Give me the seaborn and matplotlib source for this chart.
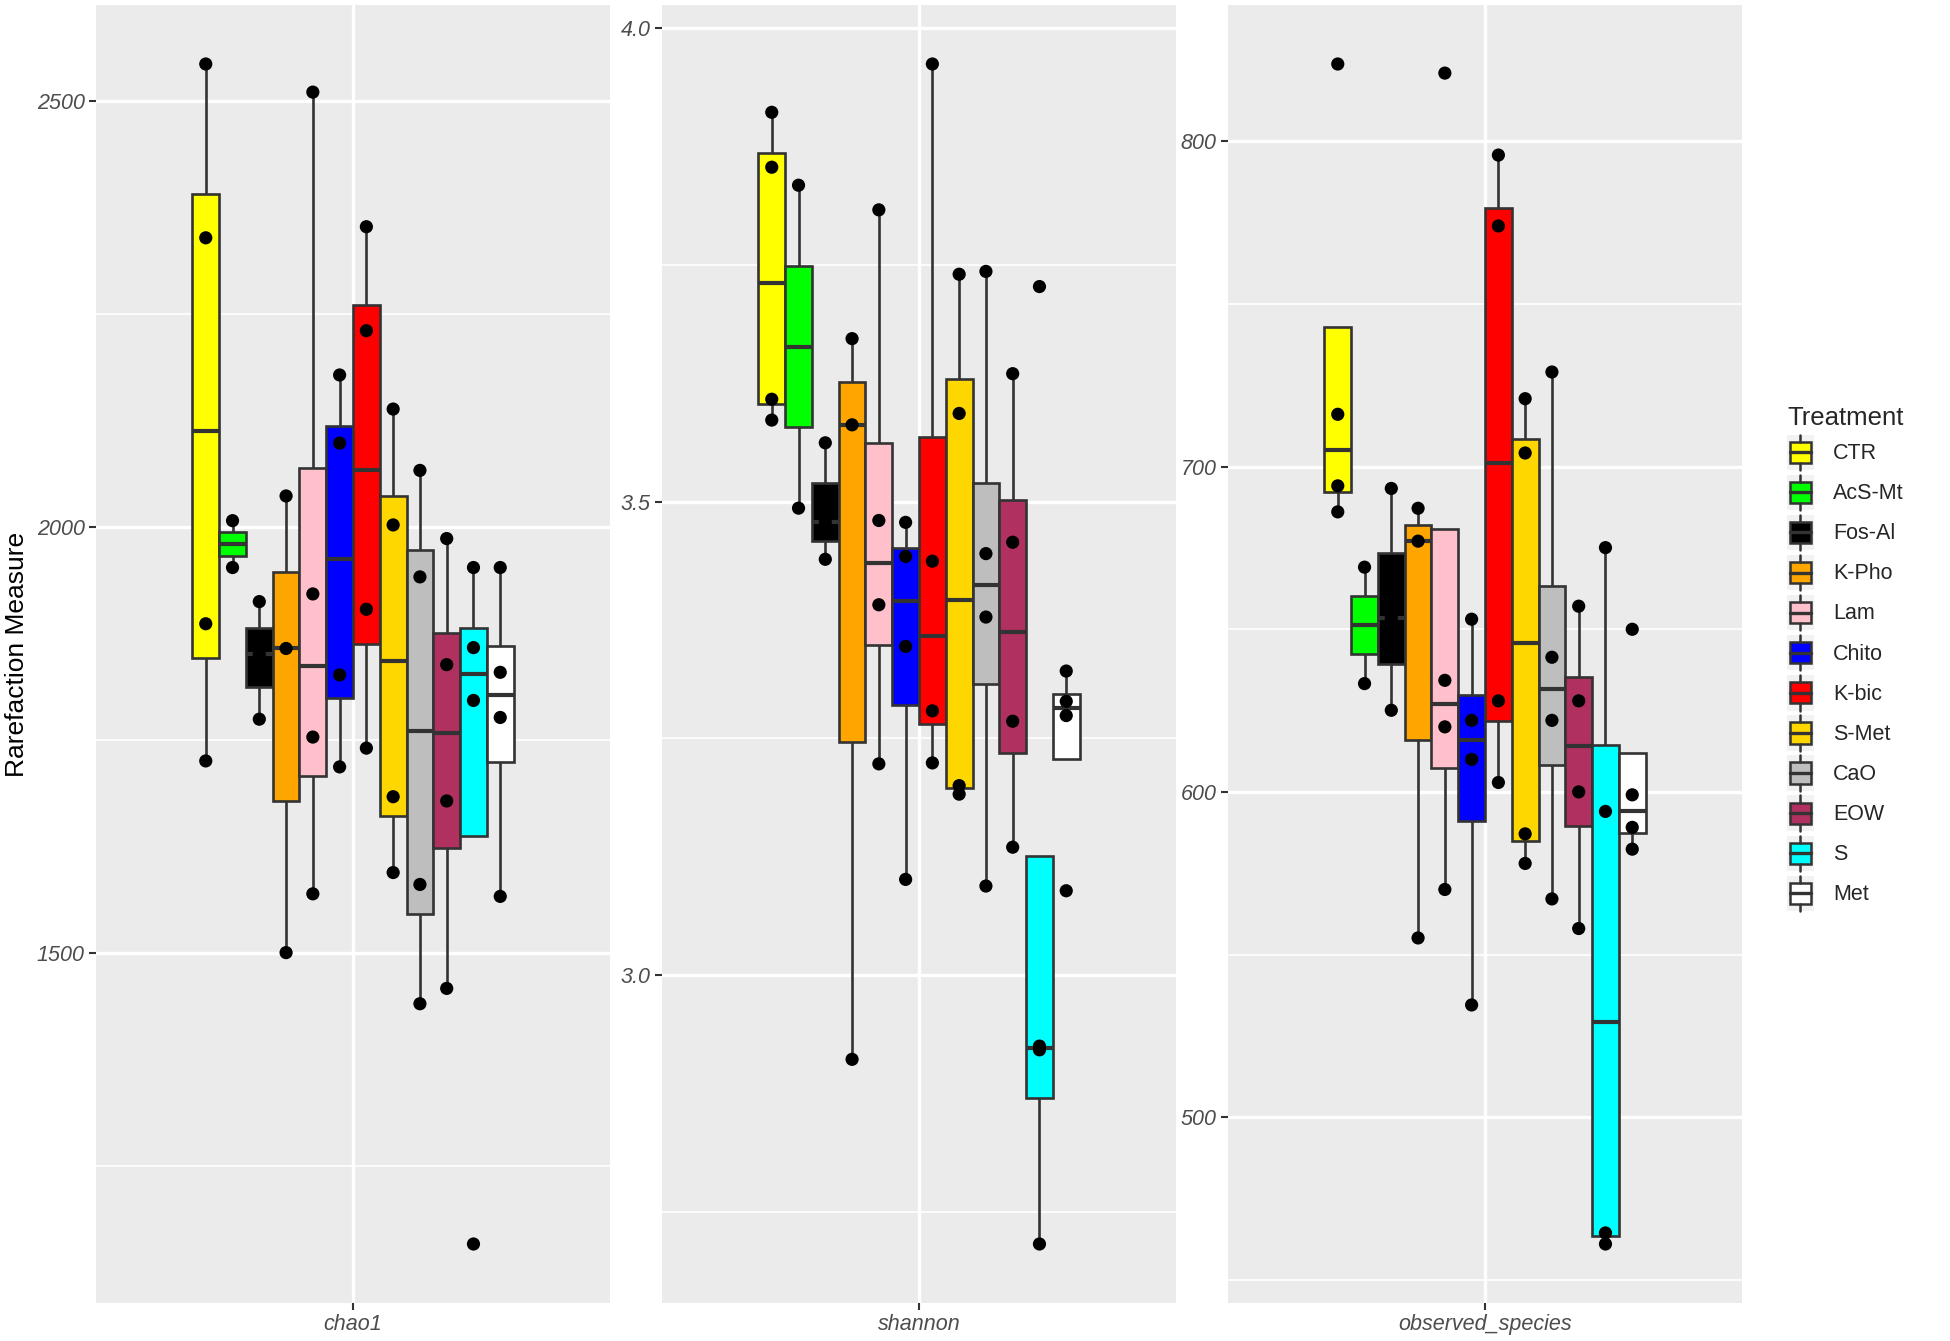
import numpy as np
import pandas as pd
import matplotlib
matplotlib.use("Agg")
import matplotlib.pyplot as plt
import seaborn as sns
from matplotlib.legend_handler import HandlerBase
from matplotlib.patches import Rectangle, Patch
from matplotlib.lines import Line2D
from matplotlib.ticker import FixedLocator

# ---------------- data ----------------
treatments = ["CTR", "AcS-Mt", "Fos-Al", "K-Pho", "Lam", "Chito",
              "K-bic", "S-Met", "CaO", "EOW", "S", "Met"]
colors = ["#FFFF00", "#00FF00", "#000000", "#FFA500", "#FFC0CB", "#0000FF",
          "#FF0000", "#FFD700", "#BEBEBE", "#B03060", "#00FFFF", "#FFFFFF"]
metrics = ["chao1", "shannon", "observed_species"]

chao1_values = [
    [1725, 1886, 2339, 2543],
    [1952, 2007],
    [1774, 1850, 1912],
    [1500, 1857, 2036],
    [1569, 1753, 1921, 2510],
    [1718, 1826, 2098, 2178],
    [1740, 1903, 2230, 2352],
    [1594, 1683, 2002, 2138],
    [1440, 1580, 1941, 2066],
    [1458, 1678, 1838, 1986],
    [1158, 1796, 1858, 1952],
    [1566, 1776, 1829, 1952],
]
shannon_values = [
    [3.586, 3.608, 3.853, 3.911],
    [3.493, 3.834],
    [3.439, 3.478, 3.562],
    [2.911, 3.581, 3.672],
    [3.223, 3.391, 3.480, 3.808],
    [3.101, 3.347, 3.442, 3.478],
    [3.224, 3.279, 3.437, 3.962],
    [3.191, 3.200, 3.593, 3.740],
    [3.094, 3.378, 3.445, 3.743],
    [3.135, 3.268, 3.457, 3.635],
    [2.716, 2.921, 2.925, 3.727],
    [3.089, 3.274, 3.289, 3.321],
]
observed_values = [
    [686.1, 694.1, 716.1, 823.8],
    [633.3, 669.1],
    [625.1, 653.5, 693.3],
    [555.1, 677.1, 687.2],
    [570.0, 620.0, 634.3, 821.0],
    [534.5, 610.0, 622.0, 653.1],
    [602.9, 628.0, 774.0, 795.8],
    [578.0, 587.1, 704.2, 720.9],
    [567.1, 622.0, 641.4, 729.1],
    [558.0, 600.0, 628.0, 657.1],
    [461.0, 464.4, 594.0, 675.1],
    [582.4, 589.1, 599.1, 650.0],
]

major_ticks = [[1500, 2000, 2500], [3.0, 3.5, 4.0], [500, 600, 700, 800]]
major_labels = [["1500", "2000", "2500"], ["3.0", "3.5", "4.0"], ["500", "600", "700", "800"]]
minor_ticks = [[1250, 1750, 2250], [2.75, 3.25, 3.75], [450, 550, 650, 750]]

# ---------------- long table ----------------
rows = []
for metric, vals in zip(metrics, [chao1_values, shannon_values, observed_values]):
    for t, v in zip(treatments, vals):
        for x in v:
            rows.append((metric, t, x))
df = pd.DataFrame(rows, columns=["metric", "Treatment", "value"])

palette = dict(zip(treatments, colors))
black_pal = {t: "black" for t in treatments}

# ---------------- style ----------------
sns.set_theme(style="darkgrid", rc={
    "axes.facecolor": "#EBEBEB",
    "grid.color": "white",
    "axes.edgecolor": "none",
    "figure.facecolor": "white",
})
plt.rcParams["font.family"] = ["Liberation Sans", "DejaVu Sans"]

EDGE = "#333333"
fig = plt.figure(figsize=(19.5, 13.41), dpi=100)
lefts = [96 / 1950, 662 / 1950, 1228 / 1950]
width = 514 / 1950
bottom = 1 - 1303 / 1341
height = (1303 - 5) / 1341

for i, metric in enumerate(metrics):
    ax = fig.add_axes([lefts[i], bottom, width, height])
    sub = df[df["metric"] == metric]
    sns.boxplot(data=sub, x="metric", y="value", hue="Treatment",
                hue_order=treatments, palette=palette, saturation=1,
                width=0.8, gap=0,
                dodge=True, showfliers=False, showcaps=False,
                linecolor=EDGE, linewidth=1.9,
                medianprops=dict(color=EDGE, linewidth=3.0),
                whiskerprops=dict(color=EDGE, linewidth=1.9),
                legend=False, ax=ax)
    sns.stripplot(data=sub, x="metric", y="value", hue="Treatment",
                  hue_order=treatments, palette=black_pal, dodge=True,
                  jitter=False, size=9.5, linewidth=0, legend=False, ax=ax)
    for c in ax.collections:
        c.set_zorder(5)

    vals = sub["value"].to_numpy()
    lo, hi = vals.min(), vals.max()
    pad = 0.05 * (hi - lo)
    ax.set_ylim(lo - pad, hi + pad)
    ax.set_xlim(-0.64, 0.64)

    ax.set_yticks(major_ticks[i], major_labels[i], fontstyle="italic",
                  color="#4D4D4D", fontsize=15.5)
    ax.yaxis.set_minor_locator(FixedLocator(minor_ticks[i]))
    ax.set_xticks([0], [metric], fontstyle="italic", color="#4D4D4D", fontsize=15.5)
    ax.grid(which="major", color="white", linewidth=2.4)
    ax.grid(which="minor", axis="y", color="white", linewidth=1.2)
    ax.set_axisbelow(True)
    ax.tick_params(which="major", length=5, width=1.5, color="#333333",
                   left=True, bottom=True, pad=3)
    ax.tick_params(which="minor", length=0)
    for s in ax.spines.values():
        s.set_visible(False)
    ax.set_xlabel("")
    if i == 0:
        ax.set_ylabel("Rarefaction Measure", fontsize=19, color="black")
        ax.yaxis.set_label_coords(-0.131, 0.5)
    else:
        ax.set_ylabel("")


# ---------------- legend ----------------
class BoxKey(HandlerBase):
    def create_artists(self, legend, orig_handle, xdescent, ydescent,
                       width, height, fontsize, trans):
        x0, y0 = -xdescent, -ydescent
        fc = orig_handle.get_facecolor()
        bg = Rectangle((x0, y0), width, height, facecolor="#F2F2F2",
                       edgecolor="none", transform=trans)
        bx = Rectangle((x0 + 0.1 * width, y0 + 0.2 * height), 0.8 * width,
                       0.6 * height, facecolor=fc, edgecolor=EDGE,
                       linewidth=1.8, transform=trans)
        xm = x0 + width / 2
        med = Line2D([x0 + 0.1 * width, x0 + 0.9 * width], [y0 + height / 2] * 2,
                     color=EDGE, lw=2.4, transform=trans)
        w1 = Line2D([xm, xm], [y0 + 0.8 * height, y0 + height], color=EDGE,
                    lw=1.8, transform=trans)
        w2 = Line2D([xm, xm], [y0, y0 + 0.2 * height], color=EDGE,
                    lw=1.8, transform=trans)
        return [bg, bx, med, w1, w2]


handles = [Patch(facecolor=c, edgecolor=EDGE) for c in colors]
fig.legend(handles, treatments, title="Treatment", loc="center left",
           bbox_to_anchor=(0.912, 0.509), frameon=False, fontsize=15.5,
           title_fontsize=18.5, handler_map={Patch: BoxKey()},
           handlelength=1.25, handleheight=2.15, labelspacing=0.22,
           handletextpad=0.9, alignment="left", borderaxespad=0)

fig.savefig("out.png", dpi=100)
